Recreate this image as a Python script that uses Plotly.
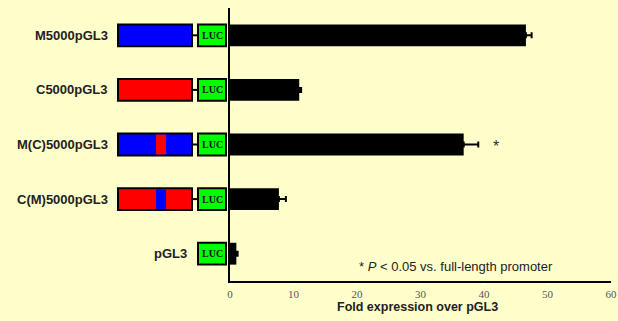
import plotly.graph_objects as go

constructs = ["M5000pGL3", "C5000pGL3", "M(C)5000pGL3", "C(M)5000pGL3", "pGL3"]
fold = [46.6, 10.9, 36.8, 7.7, 1.0]
err = [0.9, 0.3, 2.3, 1.1, 0.2]
promoter_color = ["#0000FF", "#FF0000", "#0000FF", "#FF0000", None]
insert_color = [None, None, "#FF0000", "#0000FF", None]
significant = [False, False, True, False, False]
x_ticks = [0, 10, 20, 30, 40, 50, 60]

BG = "#FFFFCC"
W, H = 618, 321
ml, mr, mt, mb = 0, 7, 8, 40
pw = W - ml - mr
axis_px = 230
dom0 = axis_px / pw

fig = go.Figure()
fig.add_trace(go.Bar(
    y=constructs, x=fold, orientation="h", width=0.4,
    marker=dict(color="black", line=dict(width=0)),
    error_x=dict(type="data", array=err, arrayminus=[0]*len(err), symmetric=False,
                 color="black", thickness=2, width=3),
    showlegend=False, xaxis="x", yaxis="y",
))
fig.add_trace(go.Scatter(x=[0], y=[constructs[0]], mode="markers", marker=dict(opacity=0),
                         xaxis="x2", yaxis="y", showlegend=False, hoverinfo="skip"))

shapes = []
annotations = []
hh = 0.2
for i, name in enumerate(constructs):
    if promoter_color[i]:
        shapes.append(dict(type="rect", xref="x2", yref="y", x0=118, x1=192, y0=i-hh, y1=i+hh,
                           fillcolor=promoter_color[i], line=dict(color="black", width=2), layer="above"))
        if insert_color[i]:
            shapes.append(dict(type="rect", xref="x2", yref="y", x0=156, x1=166, y0=i-hh+0.02, y1=i+hh-0.02,
                               fillcolor=insert_color[i], line=dict(width=0), layer="above"))
        shapes.append(dict(type="line", xref="x2", yref="y", x0=192, x1=198, y0=i, y1=i,
                           line=dict(color="black", width=2), layer="above"))
        label_x = 110
    else:
        label_x = 189
    shapes.append(dict(type="rect", xref="x2", yref="y", x0=198, x1=226, y0=i-hh, y1=i+hh,
                       fillcolor="#00FF00", line=dict(color="black", width=2), layer="above"))
    annotations.append(dict(xref="x2", yref="y", x=212, y=i, text="<b>LUC</b>", showarrow=False,
                            font=dict(family="Liberation Serif", size=10, color="#111111")))
    annotations.append(dict(xref="x2", yref="y", x=label_x, y=i, text="<b>%s</b>" % name, showarrow=False,
                            xanchor="right", font=dict(family="Liberation Sans, Arial", size=13, color="#222222")))
    if significant[i]:
        annotations.append(dict(xref="x", yref="y", x=fold[i] + err[i], y=i, text="*", showarrow=False,
                                xshift=18, yshift=-2, font=dict(family="Liberation Sans", size=16, color="#333333")))

annotations.append(dict(xref="paper", yref="paper", x=0.5*(dom0+1)-0.005, y=-0.064, xanchor="center",
                        yanchor="top", text="<b>Fold expression over pGL3</b>", showarrow=False,
                        font=dict(family="Liberation Sans, Arial", size=12.5, color="#222222")))
annotations.append(dict(xref="x", yref="y", x=20, y=4, yshift=-13, xanchor="left", xshift=-0.5,
                        text="* <i>P</i> < 0.05 vs. full-length promoter", showarrow=False,
                        font=dict(family="Liberation Sans, Arial", size=13, color="#222222")))

fig.update_layout(
    width=W, height=H, margin=dict(l=ml, r=mr, t=mt, b=mb, pad=0, autoexpand=False),
    paper_bgcolor=BG, plot_bgcolor=BG,
    shapes=shapes, annotations=annotations,
    xaxis=dict(domain=[dom0, 1], range=[0, 60], tickvals=x_ticks, showgrid=False, zeroline=False,
               showline=True, linecolor="black", linewidth=2, ticks="outside", ticklen=2, tickwidth=2,
               tickcolor="white", tickfont=dict(family="Liberation Serif", size=11, color="#555555")),
    xaxis2=dict(domain=[0, dom0], range=[0, axis_px], visible=False, anchor="y"),
    yaxis=dict(type="category", categoryarray=constructs, range=[4.5, -0.5], showticklabels=False,
               showgrid=False, zeroline=False, showline=True, linecolor="black", linewidth=2,
               ticks="outside", ticklen=2, tickwidth=2, tickcolor="white", tickson="boundaries",
               anchor="x"),
)
fig.write_html("out.html", config={"displayModeBar": False},
               post_script="document.body.style.margin='0';document.body.style.background='%s';" % BG)
